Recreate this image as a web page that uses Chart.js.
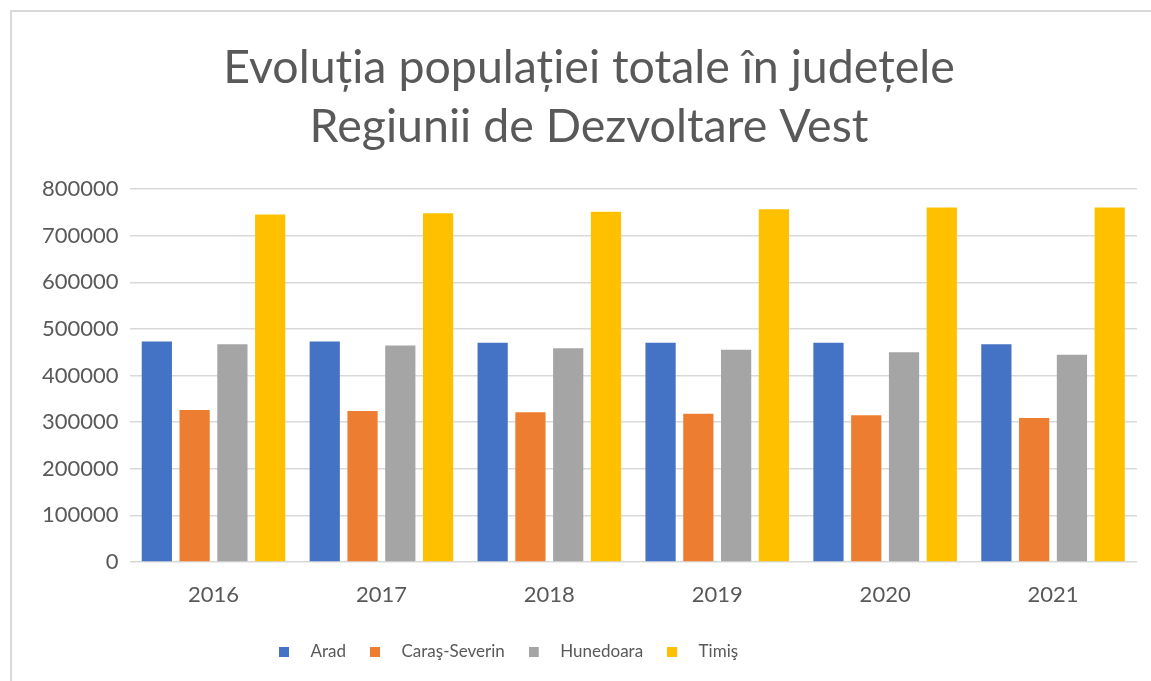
<!DOCTYPE html>
<html>
<head>
<meta charset="utf-8">
<script src="https://cdn.jsdelivr.net/npm/chart.js@4"></script>
<style>
  html, body { margin: 0; padding: 0; background: #fff; overflow: hidden; }
  #frame {
    position: absolute; left: 10px; top: 10px;
    border-left: 2px solid #d9d9d9; border-top: 2px solid #d9d9d9;
  }
  canvas { display: block; }
</style>
</head>
<body>
<div id="frame"><canvas id="myChart" width="1156" height="680"></canvas></div>
<script>
// ---- data ----
const years = ['2016', '2017', '2018', '2019', '2020', '2021'];
const arad = [473100, 473100, 470300, 470300, 470300, 467400];
const carasSeverin = [326200, 324000, 321200, 318300, 314700, 309000];
const hunedoara = [467400, 464500, 458800, 455200, 450200, 444500];
const timis = [745600, 748400, 751200, 757000, 760600, 760600];
const yTicks = [0, 100000, 200000, 300000, 400000, 500000, 600000, 700000, 800000];

const seriesNames = ['Arad', 'Caraş-Severin', 'Hunedoara', 'Timiş'];
const seriesColors = ['#4472C4', '#ED7D31', '#A5A5A5', '#FFC000'];
const textColor = '#595959';
const FONT = 'Lato, "Open Sans", sans-serif';

// small square legend marker with empty room on its right
function legendMarker(color) {
  const c = document.createElement('canvas');
  c.width = 23; c.height = 10;
  const g = c.getContext('2d');
  g.fillStyle = color;
  g.fillRect(0, 0, 10, 10);
  return c;
}
const markers = seriesColors.map(legendMarker);

const data = {
  labels: years,
  datasets: [arad, carasSeverin, hunedoara, timis].map((vals, i) => ({
    label: seriesNames[i],
    data: vals,
    backgroundColor: seriesColors[i],
    borderWidth: 0,
    categoryPercentage: 0.9,
    barPercentage: 0.8
  }))
};

//----PLUGINS----
const boxShift = {
  id: 'boxShift',
  afterLayout(chart) {
    // excel puts the legend left of centre, title a bit right
    chart.legend.left = 243;
    chart.titleBlock.left += 5;
    chart.titleBlock.right += 5;
  }
};

const config = {
  type: 'bar',
  data,
  options: {
    responsive: false,
    animation: false,
    layout: { padding: { left: 19, right: 31, top: 0, bottom: 22 } },
    scales: {
      x: {
        grid: { display: false, drawTicks: false },
        border: { display: false },
        ticks: { color: textColor, font: { family: FONT, size: 22 }, padding: 20 },
        afterFit: (s) => { s.height = 57; }
      },
      y: {
        min: 0,
        max: 800000,
        afterBuildTicks: (s) => { s.ticks = yTicks.map(v => ({ value: v })); },
        grid: { color: '#d9d9d9', lineWidth: 1.5, drawTicks: false },
        border: { display: false },
        ticks: {
          color: textColor,
          font: { family: FONT, size: 22 },
          padding: 11,
          callback: (v) => String(v)
        }
      }
    },
    plugins: {
      title: {
        display: true,
        text: ['Evoluția populației totale în județele', 'Regiunii de Dezvoltare Vest'],
        color: textColor,
        font: { family: FONT, size: 46.5, weight: 'normal', lineHeight: 1.27 },
        padding: { top: 26, bottom: 33 }
      },
      legend: {
        position: 'bottom',
        align: 'start',
        labels: {
          color: textColor,
          font: { family: FONT, size: 17 },
          usePointStyle: true,
          pointStyleWidth: 23,
          boxHeight: 10,
          padding: 24,
          generateLabels: (chart) => {
            const items = Chart.defaults.plugins.legend.labels.generateLabels(chart);
            items.forEach((it, i) => { it.pointStyle = markers[i]; });
            return items;
          }
        }
      },
      tooltip: { enabled: false }
    }
  },
  plugins: [boxShift]
};

const myChart = new Chart(document.getElementById('myChart'), config);
</script>
</body>
</html>
